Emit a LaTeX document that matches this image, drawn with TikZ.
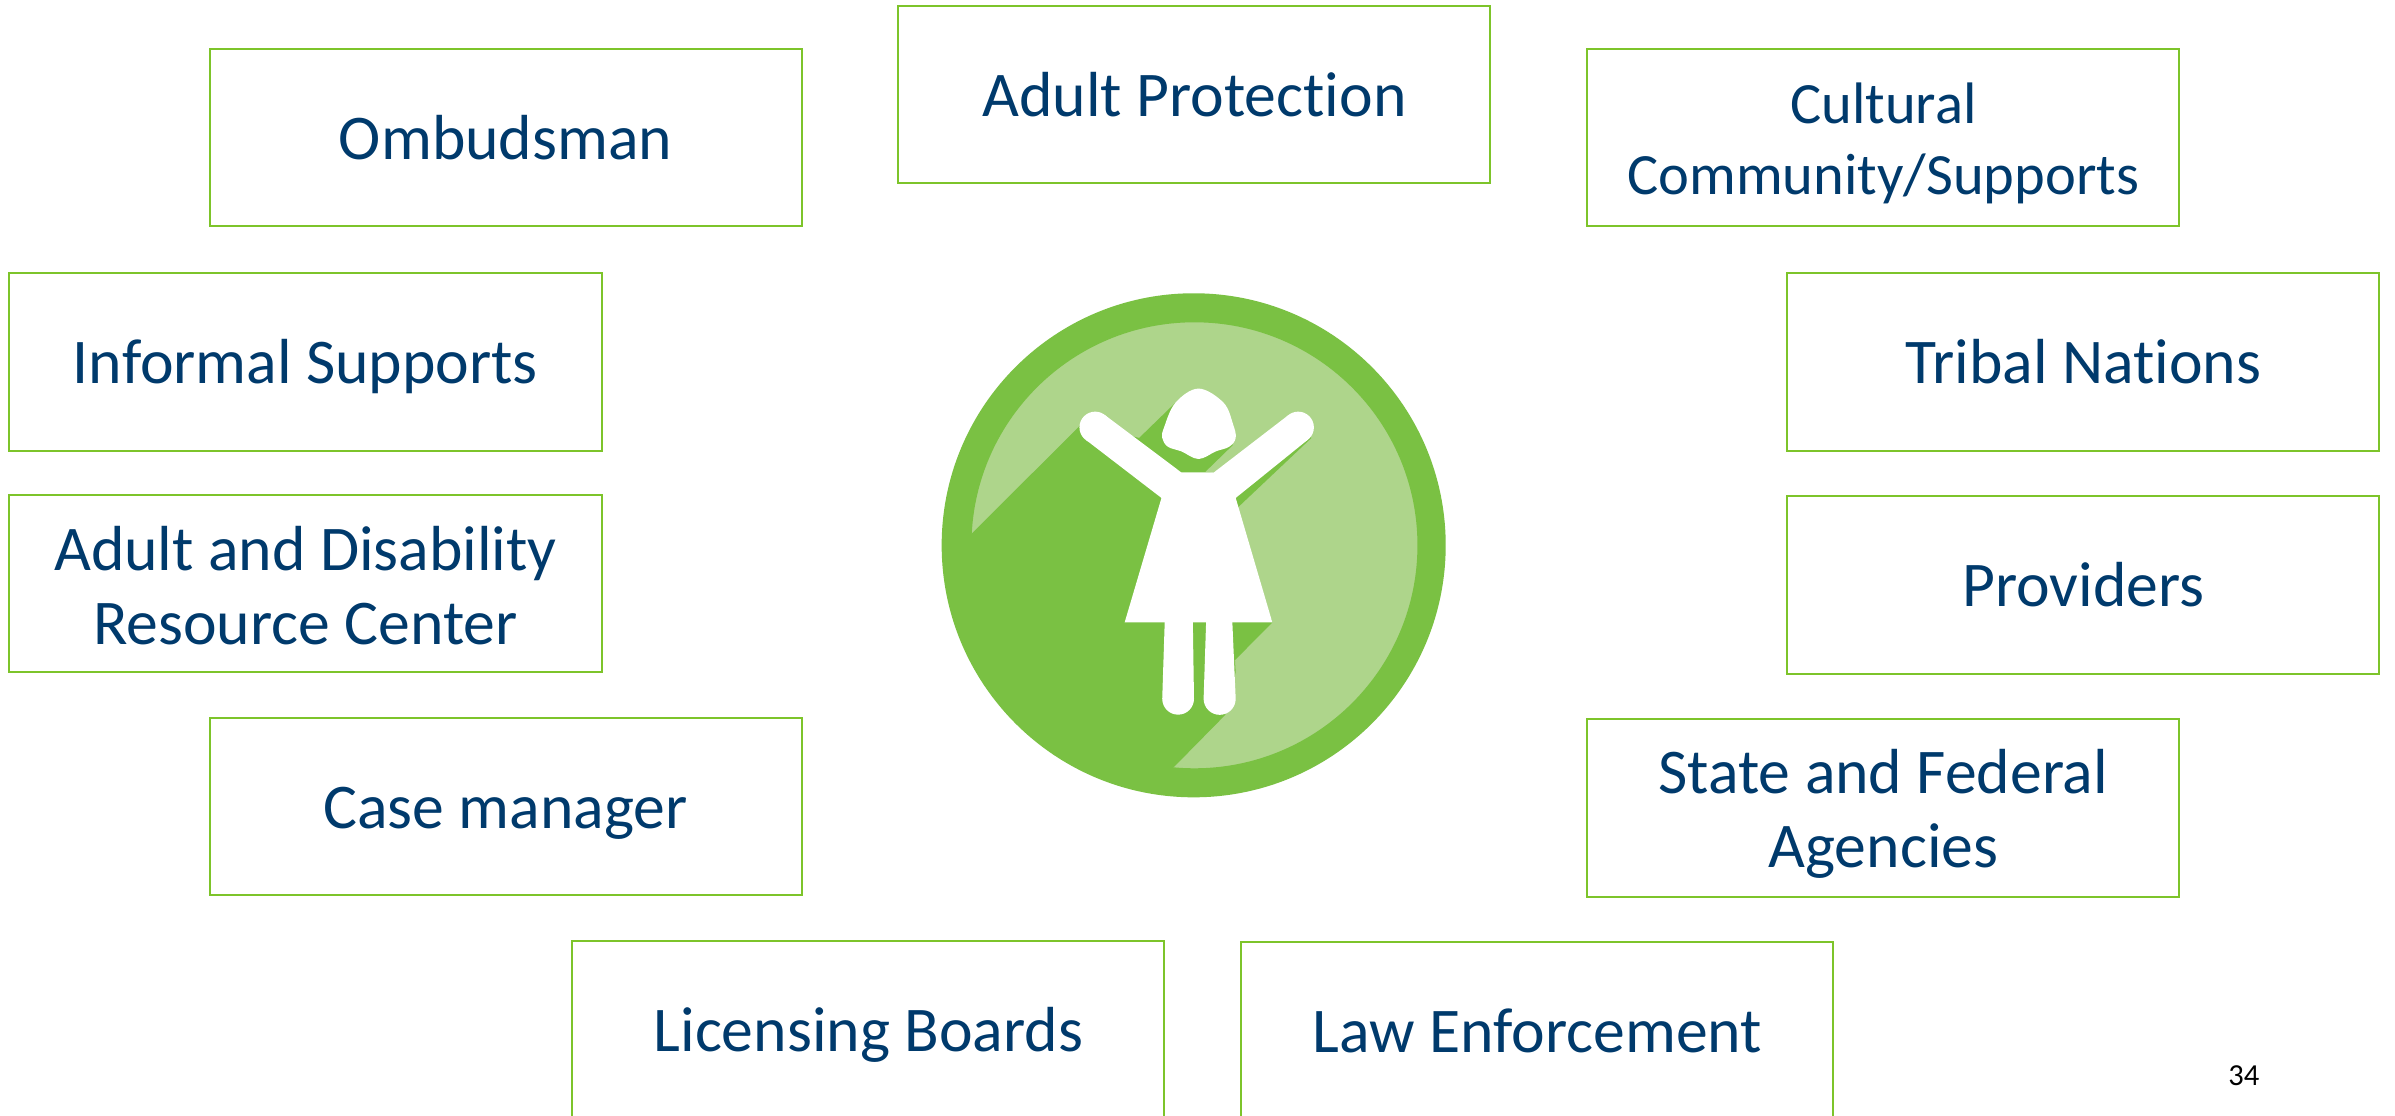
\documentclass[tikz,border=0pt]{standalone}
\usepackage{fontspec}
\setmainfont[Ligatures=NoCommon]{Carlito}
\definecolor{boxgreen}{HTML}{7DC42A}
\definecolor{disc}{HTML}{7AC143}
\definecolor{discl}{HTML}{AED58B}
\definecolor{navy}{HTML}{003A6C}
\newcommand\oneline{\rule{0pt}{43.3pt}\strut}
\tikzset{
  card/.style={draw=boxgreen,line width=1.3pt,fill=white,minimum width=387.6pt,minimum height=116pt,inner sep=0pt,text=navy,align=center},
  big/.style={font=\fontsize{41.7}{48.5}\selectfont},
  mid/.style={font=\fontsize{38.3}{46.5}\selectfont}
}
\begin{document}
\begin{tikzpicture}[x=1pt,y=-1pt]
\useasboundingbox (0,0) rectangle (1568,730);
\clip (0,0) rectangle (1568,730);
\fill[white] (0,0) rectangle (1568,730);
\node[card,big] (prot) at (782,62) {\oneline Adult Protection};
\node[card,big] (omb) at (331,90) {\oneline Ombudsman};
\node[card,mid] (cult) at (1233,90) {\rule{0pt}{34pt}Cultural\\Community/Supports};
\node[card,big] (inf) at (200,237) {\oneline Informal Supports};
\node[card,big] (trib) at (1364,237) {\oneline Tribal Nations};
\node[card,big] (adrc) at (200,382) {\rule{0pt}{32pt}Adult and Disability\\Resource Center};
\node[card,big] (prov) at (1364,383) {\oneline Providers};
\node[card,big] (case) at (331,528) {\oneline Case manager};
\node[card,big] (state) at (1233,529) {\rule{0pt}{37pt}State and Federal\\Agencies};
\node[card,big] (lic) at (568.5,674) {\oneline Licensing Boards};
\node[card,big] (law) at (1006.5,675) {\oneline Law Enforcement};
\node[font=\fontsize{20}{24}\selectfont,text=black,inner sep=0pt] (page) at (1469,704) {34};
% disc
\fill[discl] (782,357) circle (146.5);
\begin{scope}
\clip (782,357) circle (148);
\fill[disc] (708.2,277.5) -- (608,377.5) -- (727.6,543.8) -- (802.2,468) -- (809,440) -- (808.5,432.2)
  -- (833,407.5) -- (820,370) -- (809.7,332.9) -- (858.6,286.7) -- (849.9,279.8) -- (794.7,309.3)
  -- (789,309) -- (807.2,291.3) -- (790,280) -- (769.6,263.6) -- (745.8,286.7) -- (717,279.8) -- cycle;
\end{scope}
\fill[disc,even odd rule] (781.5,357) circle (165) (782,357) circle (146);
% figure
\fill[white] plot[smooth cycle,tension=0.6] coordinates {(784.7,254.4) (769.6,263.6) (762.1,279.8) (760.9,286.7) (764.6,292.5) (773.4,295.5) (784.7,300.5) (796,295.5) (804.7,292.5) (809,286.7) (807.2,277.5) (801,263.6)};
\fill[white] (723.3,271.7) -- (773.4,309.3) -- (794.7,309.3) -- (843.6,271.7) -- (856.2,287.9) -- (809,326)
  -- (833,407.5) -- (736.3,407.5) -- (760.4,326) -- (710.8,287.9) -- cycle;
\fill[white] (717,279.8) circle (10.3);
\fill[white] (849.9,279.8) circle (10.3);
\fill[white] (762.6,405) -- (780.9,405) -- (781.7,457.5) arc[start angle=0,end angle=180,radius=10.4] -- cycle;
\fill[white] (789.7,405) -- (806.7,405) -- (809,457.5) arc[start angle=0,end angle=180,radius=10.5] -- cycle;
\end{tikzpicture}
\end{document}
